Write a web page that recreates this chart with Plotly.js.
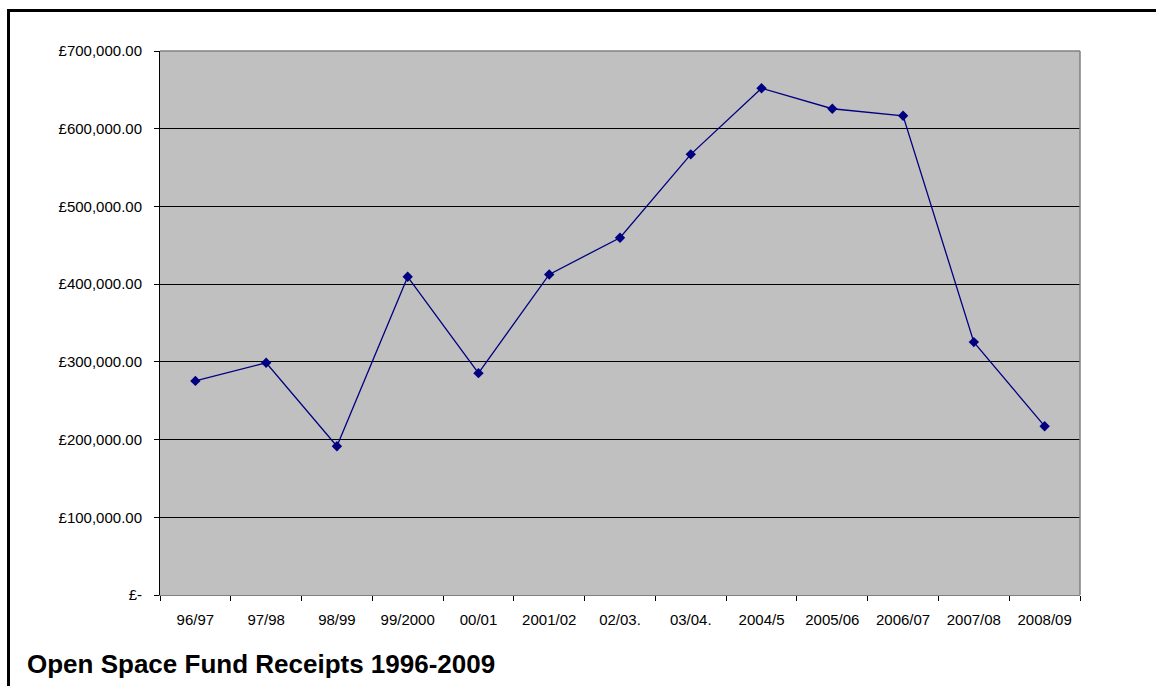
<!DOCTYPE html>
<html>
<head>
<meta charset="utf-8">
<script src="https://cdn.plot.ly/plotly-3.0.1.min.js"></script>
<style>
  html, body { margin: 0; padding: 0; overflow: hidden; background: #fff; }
  #chart { position: absolute; left: 0; top: 0; width: 1156px; height: 686px; }
  #frame { position: absolute; left: 7px; top: 9px; width: 1300px; height: 900px;
           border: 3px solid #000; pointer-events: none; box-sizing: border-box; }
</style>
</head>
<body>
<div id="chart"></div>
<div id="frame"></div>
<script>
const categories = ["96/97", "97/98", "98/99", "99/2000", "00/01", "2001/02", "02/03.", "03/04.", "2004/5", "2005/06", "2006/07", "2007/08", "2008/09"];
const receipts = [275500, 298800, 191500, 409500, 285500, 412500, 459700, 567000, 652000, 625700, 616700, 325400, 217200];
const yTickValues = [0, 100000, 200000, 300000, 400000, 500000, 600000, 700000];
const yTickLabels = ["£-", "£100,000.00", "£200,000.00", "£300,000.00", "£400,000.00", "£500,000.00", "£600,000.00", "£700,000.00"];
const chartTitle = "Open Space Fund Receipts 1996-2009";

const font = "Liberation Sans, Arial, sans-serif";

const trace = {
  type: "scatter",
  mode: "lines+markers",
  x: categories,
  y: receipts,
  line: { color: "#000080", width: 1.3 },
  marker: { symbol: "diamond", size: 8, color: "#000080" },
  hoverinfo: "x+y"
};

const layout = {
  width: 1156,
  height: 686,
  margin: { l: 160, r: 76, t: 51, b: 91, pad: 0 },
  paper_bgcolor: "#ffffff",
  plot_bgcolor: "#c0c0c0",
  showlegend: false,
  font: { family: font, size: 15, color: "#000" },
  xaxis: {
    type: "category",
    range: [-0.5, categories.length - 0.5],
    tickson: "boundaries",
    ticks: "outside",
    ticklen: 5,
    tickcolor: "#000",
    tickwidth: 1,
    showgrid: false,
    showline: true,
    linecolor: "#808080",
    linewidth: 1,
    zeroline: false,
    tickfont: { family: font, size: 15, color: "#000" },
    ticklabelstandoff: 11
  },
  yaxis: {
    range: [0, 700000],
    tickmode: "array",
    tickvals: yTickValues,
    ticktext: yTickLabels,
    ticks: "outside",
    ticklen: 5,
    tickcolor: "#000",
    showgrid: true,
    gridcolor: "#000",
    gridwidth: 1,
    showline: true,
    linecolor: "#000",
    linewidth: 1,
    zeroline: false,
    tickfont: { family: font, size: 15, color: "#000" },
    ticklabelstandoff: 9
  },
  shapes: [
    { type: "line", xref: "paper", yref: "paper", x0: 0, x1: 1, y0: 1, y1: 1,
      line: { color: "#808080", width: 1.5 }, layer: "above" },
    { type: "line", xref: "paper", yref: "paper", x0: 1, x1: 1, y0: 0, y1: 1,
      line: { color: "#808080", width: 1.5 }, layer: "above" }
  ],
  annotations: [
    { text: "<b>" + chartTitle + "</b>", xref: "paper", yref: "paper",
      x: -135 / 920, y: -69 / 544, xanchor: "left", yanchor: "middle",
      showarrow: false, font: { family: font, size: 26, color: "#000" } }
  ]
};

Plotly.newPlot("chart", [trace], layout, { staticPlot: true, displayModeBar: false });
</script>
</body>
</html>
